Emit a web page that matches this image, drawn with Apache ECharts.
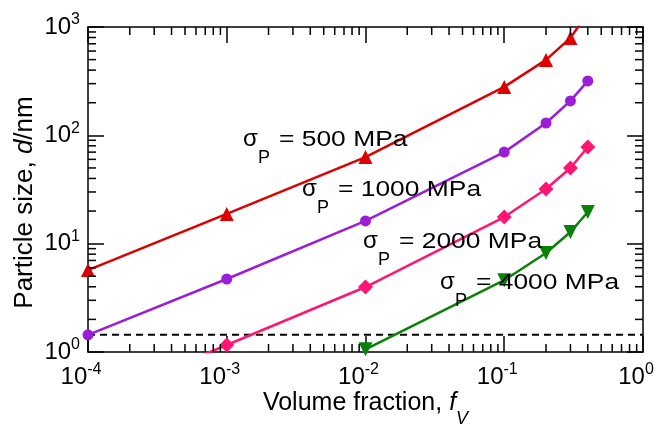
<!DOCTYPE html>
<html><head><meta charset="utf-8">
<script src="https://cdn.jsdelivr.net/npm/echarts@6/dist/echarts.min.js"></script>
<style>html,body{margin:0;padding:0;background:#fff}#c{width:659px;height:426px}</style>
</head><body><div id="c"></div>
<script>
// ---- data ----
const fraction = [0.0001, 0.001, 0.01, 0.1, 0.2, 0.3, 0.4];
const size500  = [5.7, 18.8, 63, 280, 497, 793, 1350];
const size1000 = [1.44, 4.72, 16.2, 70, 130, 208, 318];
const size2000 = [0.34, 1.16, 3.98, 17.6, 32, 50, 78];
const size4000 = [null, null, 1.06, 4.6, 8.2, 12.8, 19.6];
const criticalSize = 1.44;
const stressValues = ['500', '1000', '2000', '4000'];
const xTickValues = [0.0001, 0.001, 0.01, 0.1, 1];
const xTickExp = ['-4', '-3', '-2', '-1', '0'];
const yTickValues = [1, 10, 100, 1000];
const yTickExp = ['0', '1', '2', '3'];
const minorMultipliers = [2, 3, 4, 5, 6, 7, 8, 9];

// ---- styling ----
const FONT = "'Liberation Sans', Arial, Helvetica, sans-serif";
const colors = ['#dd0000', '#9b1dd6', '#ff1673', '#0a820a'];
const TICK_MAJOR = '#000';
const TICK_MINOR = '#000';

function pairs(xs, ys) {
  const out = [];
  xs.forEach((x, i) => { if (ys[i] != null) out.push([x, ys[i]]); });
  return out;
}
function expLabel(values, exps) {
  return function (v) {
    let best = 0, bd = Infinity;
    values.forEach((t, i) => { const d = Math.abs(Math.log10(t) - Math.log10(v)); if (d < bd) { bd = d; best = i; } });
    return '{b|10}{s|' + exps[best] + '}';
  };
}
const tickRich = {
  b: { fontSize: 24, lineHeight: 24, fontFamily: FONT, color: '#000', verticalAlign: 'middle' },
  s: { fontSize: 16, lineHeight: 16, fontFamily: FONT, color: '#000', verticalAlign: 'middle', padding: [0, 0, 14, 0] }
};
function majorAxis(isX, pos, showLabel) {
  return {
    type: 'log', logBase: 10,
    min: isX ? 0.0001 : 1, max: isX ? 1 : 1000,
    position: pos,
    axisLine: { show: true, onZero: false, lineStyle: { color: '#000', width: 1.5 } },
    axisTick: { show: true, inside: true, length: 16, lineStyle: { color: TICK_MAJOR, width: 1.5 } },
    minorTick: { show: false },
    splitLine: { show: false }, minorSplitLine: { show: false },
    axisLabel: {
      show: showLabel, margin: isX ? 13 : 8, hideOverlap: false,
      padding: isX ? [0, 14, 0, 0] : 0,
      formatter: isX ? expLabel(xTickValues, xTickExp) : expLabel(yTickValues, yTickExp),
      rich: tickRich
    }
  };
}

const xBottom = Object.assign(majorAxis(true, 'bottom', true), {
  name: '{n|Volume fraction, }{i|f}{v|V}',
  nameLocation: 'middle', nameGap: 39, nameMoveOverlap: false,
  nameTextStyle: {
    rich: {
      n: { fontSize: 25, lineHeight: 25, fontFamily: FONT, color: '#000', verticalAlign: 'middle' },
      i: { fontSize: 25, lineHeight: 25, fontFamily: FONT, fontStyle: 'italic', color: '#000', verticalAlign: 'middle' },
      v: { fontSize: 18, lineHeight: 18, fontFamily: FONT, fontStyle: 'italic', color: '#000', verticalAlign: 'middle', padding: [31, 0, 0, 0] }
    }
  }
});
const xTop = majorAxis(true, 'top', false);
const yLeft = Object.assign(majorAxis(false, 'left', true), {
  name: '{n|Particle size, }{i|d}{n|/nm}',
  nameLocation: 'middle', nameGap: 50, nameMoveOverlap: false,
  nameTextStyle: {
    padding: [0, 26, 0, 0],
    rich: {
      n: { fontSize: 26, fontFamily: FONT, color: '#000' },
      i: { fontSize: 26, fontFamily: FONT, fontStyle: 'italic', color: '#000' }
    }
  }
});
const yRight = majorAxis(false, 'right', false);

// minor ticks (2..9 x 10^n) on the frame, mapped through the same log scales
function minorAlong(lo, hi) {
  const out = [];
  for (let n = lo; n < hi; n++) minorMultipliers.forEach(k => out.push(Number((k * Math.pow(10, n)).toPrecision(3))));
  return out;
}
const xMinor = minorAlong(-4, 0);
const yMinor = minorAlong(0, 3);
function tickSeries(data, dx, dy) {
  return {
    type: 'custom', data: data, silent: true, clip: false, z: 6,
    encode: { x: 0, y: 1 },
    renderItem: function (params, api) {
      const p = api.coord([api.value(0), api.value(1)]);
      return { type: 'line', shape: { x1: p[0], y1: p[1], x2: p[0] + dx, y2: p[1] + dy },
        style: { stroke: TICK_MINOR, lineWidth: 1.5 } };
    }
  };
}

function lineSeries(data, color, symbol, size, rotate) {
  return {
    type: 'line', data: data, xAxisIndex: 0, yAxisIndex: 0,
    symbol: symbol, symbolSize: size, symbolRotate: rotate || 0, showSymbol: true,
    itemStyle: { color: color }, lineStyle: { color: color, width: 2.5 },
    clip: true, silent: true, z: 5
  };
}

// annotation layout (sigma label positions, px)
const annLayout = [
  { x: 243, b: 148 }, { x: 302, b: 198 }, { x: 363, b: 250 }, { x: 440, b: 291 }
];
const graphics = [];
stressValues.forEach((s, i) => {
  const L = annLayout[i];
  graphics.push({ type: 'text', x: L.x, y: L.b - 8.3, z: 100,
    style: { text: 'σ', font: '24px ' + FONT, fill: '#000', verticalAlign: 'middle', align: 'left' } });
  graphics.push({ type: 'text', x: L.x + 15, y: L.b + 16 - 6.3, z: 100,
    style: { text: 'P', font: '18px ' + FONT, fill: '#000', verticalAlign: 'middle', align: 'left' } });
  graphics.push({ type: 'text', x: L.x + 36, y: L.b - 7.7, z: 100, scaleX: 1.2,
    style: { text: '= ' + s + ' MPa', font: '22px ' + FONT, fill: '#000', verticalAlign: 'middle', align: 'left' } });
});

const chart = echarts.init(document.getElementById('c'), null, { renderer: 'canvas' });
chart.setOption({
  animation: false,
  backgroundColor: '#fff',
  grid: { left: 88, right: 16, top: 27, bottom: 74, containLabel: false, outerBoundsMode: 'none' },
  xAxis: [xBottom, xTop],
  yAxis: [yLeft, yRight],
  series: [
    tickSeries(xMinor.map(v => [v, 1]), 0, -8),
    tickSeries(xMinor.map(v => [v, 1000]), 0, 8),
    tickSeries(yMinor.map(v => [0.0001, v]), 8, 0),
    tickSeries(yMinor.map(v => [1, v]), -8, 0),
    { type: 'line', data: [[0.0001, criticalSize], [1, criticalSize]], symbol: 'none',
      lineStyle: { color: '#000', width: 2, type: [7, 5] }, silent: true, z: 1 },
    lineSeries(pairs(fraction, size500), colors[0], 'triangle', 14),
    lineSeries(pairs(fraction, size1000), colors[1], 'circle', 11),
    lineSeries(pairs(fraction, size2000), colors[2], 'diamond', 15),
    lineSeries(pairs(fraction, size4000), colors[3], 'triangle', 14, 180)
  ],
  graphic: graphics
});
</script>
</body></html>
